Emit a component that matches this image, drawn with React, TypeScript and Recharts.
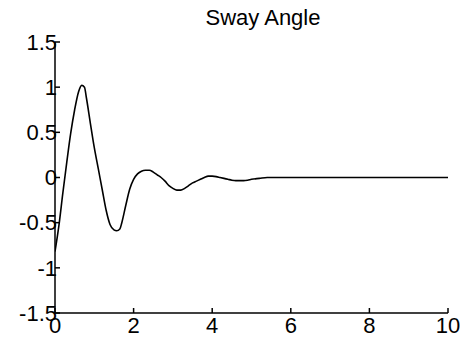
import React from 'react';
import { LineChart, Line, XAxis, YAxis } from 'recharts';

// time (s) and sway angle
const times = [
  0, 0.1, 0.2, 0.3, 0.4, 0.5, 0.6, 0.68, 0.75, 0.8, 0.9, 1.0, 1.1, 1.2, 1.3, 1.4, 1.5, 1.57, 1.65,
  1.7, 1.8, 1.9, 2.0, 2.1, 2.2, 2.3, 2.4, 2.5, 2.6, 2.7, 2.8, 2.9, 3.0, 3.1, 3.2, 3.3, 3.4, 3.5,
  3.6, 3.7, 3.8, 3.9, 4.0, 4.1, 4.2, 4.3, 4.4, 4.5, 4.6, 4.7, 4.8, 4.9, 5.0, 5.2, 5.4, 5.6, 6, 7,
  8, 9, 10,
];
const swayAngle = [
  -0.82, -0.53, -0.17, 0.17, 0.49, 0.75, 0.95, 1.02, 1.0, 0.88, 0.6, 0.33, 0.1, -0.13, -0.36, -0.52,
  -0.58, -0.59, -0.57, -0.5, -0.31, -0.13, -0.02, 0.04, 0.07, 0.08, 0.08, 0.06, 0.03, 0.0, -0.04,
  -0.09, -0.12, -0.14, -0.14, -0.12, -0.09, -0.06, -0.04, -0.02, 0.0, 0.015, 0.015, 0.01, 0.0,
  -0.01, -0.02, -0.03, -0.035, -0.035, -0.035, -0.03, -0.02, -0.01, 0.0, 0, 0, 0, 0, 0, 0,
];
const xTicks = [0, 2, 4, 6, 8, 10];
const yTicks = [-1.5, -1, -0.5, 0, 0.5, 1, 1.5];

const data = times.map((t, i) => ({ t, angle: swayAngle[i] }));

const font = '"Liberation Sans", Arial, sans-serif';
const tickStyle = { fill: '#000', fontSize: 22, fontFamily: font };
const blank = () => '';

const App: React.FC = () => {
    return (
        <div style={{ position: 'absolute', left: 0, top: 0, width: 467, height: 338, background: '#fff' }}>
            <div
                style={{
                    position: 'absolute',
                    left: 0,
                    width: 526,
                    top: 7,
                    textAlign: 'center',
                    fontFamily: font,
                    fontSize: 22,
                    lineHeight: '22px',
                    color: '#000',
                }}
            >
                Sway Angle
            </div>
            <LineChart width={467} height={338} data={data} margin={{ top: 42, right: 19, bottom: 0, left: 0 }}>
                <XAxis
                    xAxisId="b"
                    dataKey="t"
                    type="number"
                    domain={[0, 10]}
                    ticks={xTicks}
                    height={25}
                    stroke="#000"
                    strokeWidth={1.5}
                    tickSize={-5}
                    tickMargin={9}
                    tick={tickStyle}
                    interval={0}
                    allowDataOverflow
                />
                <XAxis
                    xAxisId="top"
                    orientation="top"
                    dataKey="t"
                    type="number"
                    domain={[0, 10]}
                    ticks={xTicks}
                    height={0}
                    stroke="#000"
                    strokeWidth={1.5}
                    tickSize={-5}
                    tickFormatter={blank}
                    interval={0}
                />
                <YAxis
                    yAxisId="l"
                    type="number"
                    domain={[-1.5, 1.5]}
                    ticks={yTicks}
                    width={55}
                    stroke="#000"
                    strokeWidth={1.5}
                    tickSize={-5}
                    tickMargin={3}
                    tick={tickStyle}
                    interval={0}
                    allowDataOverflow
                />
                <YAxis
                    yAxisId="r"
                    orientation="right"
                    type="number"
                    domain={[-1.5, 1.5]}
                    ticks={yTicks}
                    width={0}
                    stroke="#000"
                    strokeWidth={1.5}
                    tickSize={-5}
                    tickFormatter={blank}
                    interval={0}
                />
                <Line
                    xAxisId="b"
                    yAxisId="l"
                    type="monotone"
                    dataKey="angle"
                    stroke="#000"
                    strokeWidth={1.6}
                    dot={false}
                    isAnimationActive={false}
                />
            </LineChart>
        </div>
    );
};

export default App;
